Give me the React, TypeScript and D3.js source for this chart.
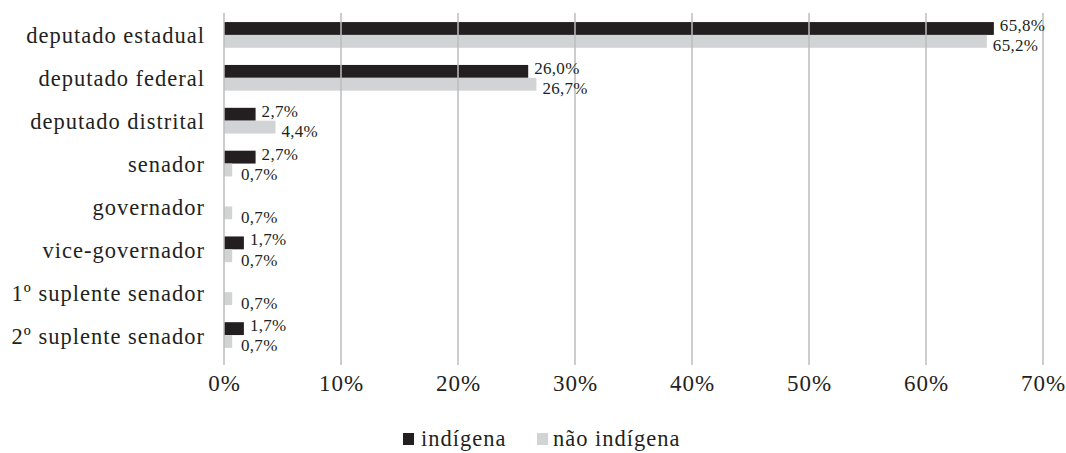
import React from "react";
import * as d3 from "d3";

const categories = [
  "deputado estadual",
  "deputado federal",
  "deputado distrital",
  "senador",
  "governador",
  "vice-governador",
  "1º suplente senador",
  "2º suplente senador",
];
const indigena = [65.8, 26.0, 2.7, 2.7, 0, 1.7, 0, 1.7];
const naoIndigena = [65.2, 26.7, 4.4, 0.7, 0.7, 0.7, 0.7, 0.7];
const seriesNames = ["indígena", "não indígena"];
const xTicks = [0, 10, 20, 30, 40, 50, 60, 70];

const W = 1066;
const H = 453;
const FONT = "Liberation Serif";
const DARK = "#231f20";
const LIGHT = "#d1d3d4";
const GRID = "#bdbdbd";
const TEXT = "#231f20";

export default function App() {
  const x = d3.scaleLinear().domain([0, 70]).range([224, 1043]);
  const y = d3
    .scaleBand<string>()
    .domain(categories)
    .range([13.5, 356.5])
    .paddingInner(0.4)
    .paddingOuter(0.2);
  const y1 = d3
    .scaleBand<string>()
    .domain(seriesNames)
    .range([0, y.bandwidth()]);
  const fmt = (v: number) => d3.format(".1f")(v).replace(".", ",") + "%";
  const series = [
    { name: seriesNames[0], values: indigena, color: DARK, dy: -3 },
    { name: seriesNames[1], values: naoIndigena, color: LIGHT, dy: 4.5 },
  ];
  const big = { fontFamily: FONT, letterSpacing: "1px" } as React.CSSProperties;
  const small = { fontFamily: FONT, letterSpacing: "0.3px" } as React.CSSProperties;

  return (
    <svg
      width={W}
      height={H}
      style={{ position: "absolute", left: 0, top: 0, background: "#fff", fontFamily: FONT }}
    >
      {series.map((s) =>
        categories.map((c, i) => {
          const v = s.values[i];
          if (v <= 0) return null;
          const yy = (y(c) ?? 0) + (y1(s.name) ?? 0);
          return (
            <rect
              key={s.name + c}
              x={x(0)}
              y={yy}
              width={x(v) - x(0)}
              height={y1.bandwidth()}
              fill={s.color}
            />
          );
        })
      )}
      {xTicks.map((t) => (
        <line
          key={"g" + t}
          x1={x(t)}
          x2={x(t)}
          y1={13}
          y2={365}
          stroke={GRID}
          strokeWidth={1.5}
        />
      ))}
      {series.map((s) =>
        categories.map((c, i) => {
          const v = s.values[i];
          if (v <= 0) return null;
          const yy = (y(c) ?? 0) + (y1(s.name) ?? 0) + y1.bandwidth() / 2;
          return (
            <text
              key={"l" + s.name + c}
              x={Math.max(x(v) + 6, x(0) + 17)}
              y={yy + s.dy}
              dominantBaseline="central"
              fontSize={17}
              fill={TEXT}
              style={small}
            >
              {fmt(v)}
            </text>
          );
        })
      )}
      {categories.map((c) => (
        <text
          key={"c" + c}
          x={205}
          y={(y(c) ?? 0) + y.bandwidth() / 2 + 1}
          textAnchor="end"
          dominantBaseline="central"
          fontSize={22.5}
          fill={TEXT}
          style={big}
        >
          {c}
        </text>
      ))}
      {xTicks.map((t) => (
        <text
          key={"t" + t}
          x={x(t) + 0.5}
          y={391}
          textAnchor="middle"
          fontSize={23}
          fill={TEXT}
          style={big}
        >
          {t + "%"}
        </text>
      ))}
      <g>
        <rect x={403} y={433} width={11} height={12} fill={DARK} />
        <text x={421} y={446} fontSize={22.5} fill={TEXT} style={big}>
          {seriesNames[0]}
        </text>
        <rect x={537} y={433} width={11} height={12} fill={LIGHT} />
        <text x={553} y={446} fontSize={22.5} fill={TEXT} style={big}>
          {seriesNames[1]}
        </text>
      </g>
    </svg>
  );
}
